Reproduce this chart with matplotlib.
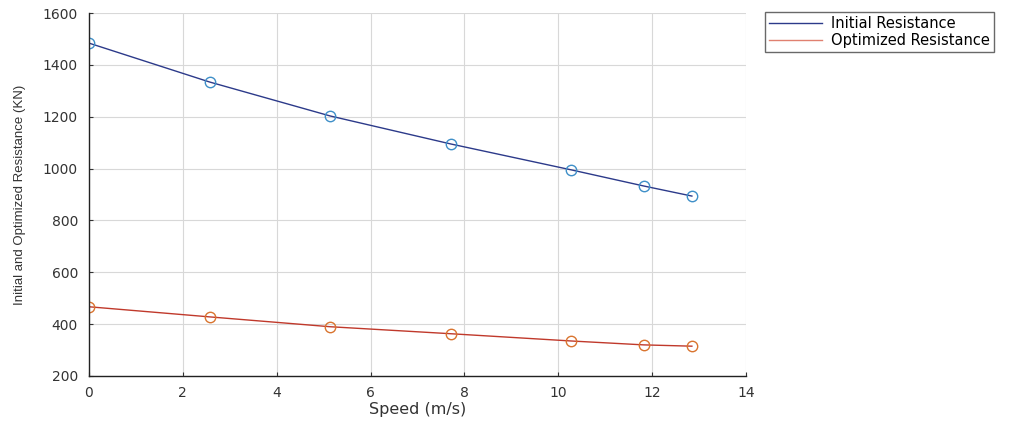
import matplotlib
matplotlib.use("Agg")
import matplotlib.pyplot as plt
import matplotlib.lines as mlines

speed = [0, 2.57, 5.14, 7.71, 10.28, 11.82, 12.85]
initial_resistance = [1484, 1334, 1203, 1095, 995, 933, 894]
optimized_resistance = [467, 428, 390, 363, 335, 320, 315]
xticks = [0, 2, 4, 6, 8, 10, 12, 14]
yticks = [200, 400, 600, 800, 1000, 1200, 1400, 1600]

plt.rcParams['font.family'] = ['DejaVu Sans']

fig = plt.figure(figsize=(10.09, 4.26), dpi=100)
ax = fig.add_axes([0.0882, 0.1174, 0.651, 0.852])

ax.plot(speed, initial_resistance, color='#2c3a8a', lw=1.0,
        marker='o', markersize=7.5, markerfacecolor='none',
        markeredgecolor='#3f8fc8', markeredgewidth=1.0)
ax.plot(speed, optimized_resistance, color='#c0392b', lw=1.0,
        marker='o', markersize=7.5, markerfacecolor='none',
        markeredgecolor='#d9742f', markeredgewidth=1.0)

ax.set_xlim(0, 14)
ax.set_ylim(200, 1600)
ax.set_xticks(xticks)
ax.set_yticks(yticks)
ax.tick_params(axis='both', labelsize=10, colors='#333333', length=3, direction='in')
ax.tick_params(axis='y', pad=8)
ax.tick_params(axis='x', pad=7)
ax.grid(True, color='#d8d8d8', lw=0.8)
ax.set_axisbelow(True)
for s in ['top', 'right']:
    ax.spines[s].set_visible(False)
for s in ['left', 'bottom']:
    ax.spines[s].set_color('#222222')
    ax.spines[s].set_linewidth(1.0)

ax.set_xlabel('Speed (m/s)', fontsize=11.5, color='#333333', labelpad=2)
ax.set_ylabel('Initial and Optimized Resistance (KN)', fontsize=9.5, color='#333333',
              labelpad=12, family=['Liberation Sans'])

h1 = mlines.Line2D([], [], color='#2c3a8a', lw=1.0)
h2 = mlines.Line2D([], [], color='#e08070', lw=1.0)
fig.legend([h1, h2], ['Initial Resistance', 'Optimized Resistance'],
           loc='upper left', bbox_to_anchor=(0.751, 0.99),
           prop={'family': 'DejaVu Sans', 'size': 10.5},
           frameon=True, fancybox=False, edgecolor='#444444',
           handlelength=3.6, borderpad=0.3, labelspacing=0.15, handletextpad=0.6)

fig.savefig('out.png', dpi=100)
